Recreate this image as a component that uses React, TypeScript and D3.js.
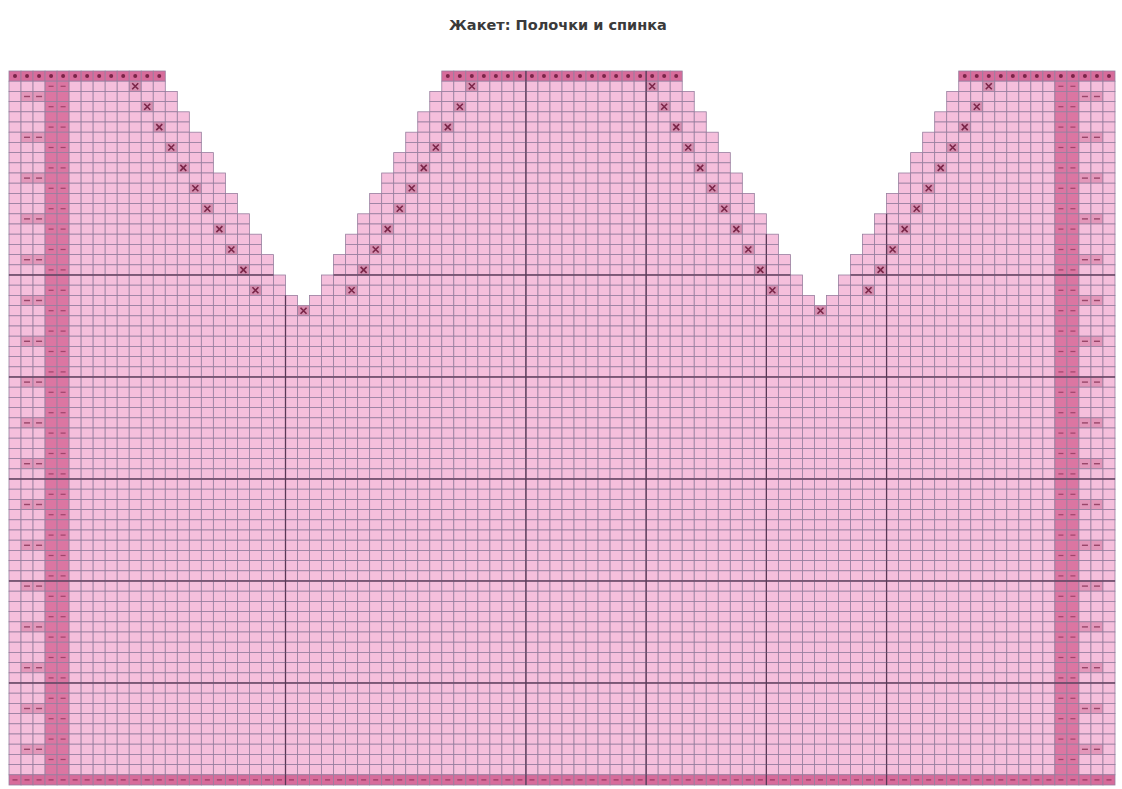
import React from 'react';
import * as d3 from 'd3';

const TITLE = 'Жакет: Полочки и спинка';
const COLS = 92;
const ROWS = 70;
// last stitch column of the left front for each of the top rows (shaping)
const leftFrontEdge = [12, 12, 13, 13, 14, 14, 15, 15, 16, 16, 17, 17, 18, 18, 19, 19, 20, 20, 21, 21, 22, 22, 23, 24];
const V_AXIS = 24; // column of the V tip
// decrease marks on the left front slope
const crossRows = [1, 3, 5, 7, 9, 11, 13, 15, 17, 19, 21, 23];
const crossCols = [10, 11, 12, 13, 14, 15, 16, 17, 18, 19, 20, 24];
const bandCols = [3, 4, 87, 88];
const holeCols = [1, 2, 89, 90];
const holeRows = [2, 6, 10, 14, 18, 22, 26, 30, 34, 38, 42, 46, 50, 54, 58, 62, 66];
const thickCols = [23, 43, 53, 63, 73];
const thickRows = [20, 30, 40, 50, 60];

const PINK = '#f5bfdc';
const BAND = '#db76a2';
const EDGE = '#d76c9b';
const GRID = '#977e9e';
const THICK = '#5a3856';
const MARK = '#7a2548';

function inShape(r: number, c: number): boolean {
  if (c < 0 || c >= COLS || r < 0 || r >= ROWS) return false;
  if (r >= leftFrontEdge.length) return true;
  const e = leftFrontEdge[r];
  const cs = 2 * V_AXIS - e;
  const ce = COLS - 1 - cs;
  const rs = COLS - 1 - e;
  return c <= e || (c >= cs && c <= ce) || c >= rs;
}

export default function App() {
  const x = d3.scaleLinear().domain([0, COLS]).range([9, 1115]);
  const y = d3.scaleLinear().domain([0, ROWS]).range([71, 785]);
  const cw = x(1) - x(0);
  const rh = y(1) - y(0);

  const crossSet = new Set<string>();
  crossRows.forEach((r, i) => {
    const c = crossCols[i];
    [c, 2 * V_AXIS - c, COLS - 1 - c, COLS - 1 - (2 * V_AXIS - c)].forEach((cc) => crossSet.add(r + ':' + cc));
  });
  const holeSet = new Set(holeRows);

  const cells: React.ReactNode[] = [];
  const marks: React.ReactNode[] = [];
  for (let r = 0; r < ROWS; r++) {
    for (let c = 0; c < COLS; c++) {
      if (!inShape(r, c)) continue;
      let fill = PINK;
      const key = r + ':' + c;
      const cx = x(c) + cw / 2;
      const cy = y(r) + rh / 2;
      if (r === 0) {
        fill = EDGE;
        marks.push(<circle key={'d' + key} cx={cx} cy={cy} r={2} fill={MARK} />);
      } else if (r === ROWS - 1) {
        fill = EDGE;
        marks.push(<line key={'b' + key} x1={cx - 2.5} x2={cx + 2.5} y1={cy} y2={cy} stroke={MARK} strokeWidth={1.2} opacity={0.7} />);
      } else if (bandCols.includes(c)) {
        fill = BAND;
        if (r % 2 === 1) marks.push(<line key={'m' + key} x1={cx - 2.5} x2={cx + 2.5} y1={cy} y2={cy} stroke={MARK} strokeWidth={1.2} opacity={0.6} />);
      } else if (holeCols.includes(c) && holeSet.has(r)) {
        fill = '#e397ba';
        marks.push(<line key={'h' + key} x1={cx - 3} x2={cx + 3} y1={cy} y2={cy} stroke={MARK} strokeWidth={1.4} opacity={0.7} />);
      } else if (crossSet.has(key)) {
        fill = '#d58fb0';
        marks.push(
          <path key={'x' + key} d={`M${cx - 3},${cy - 3}L${cx + 3},${cy + 3}M${cx + 3},${cy - 3}L${cx - 3},${cy + 3}`} stroke={MARK} strokeWidth={1.6} />
        );
      }
      cells.push(<rect key={key} x={x(c)} y={y(r)} width={cw} height={rh} fill={fill} stroke={GRID} strokeWidth={0.8} />);
    }
  }

  const thick: React.ReactNode[] = [];
  thickCols.forEach((b) => {
    for (let r = 0; r < ROWS; r++) {
      if (inShape(r, b - 1) && inShape(r, b)) {
        thick.push(<line key={'tv' + b + ':' + r} x1={x(b)} x2={x(b)} y1={y(r)} y2={y(r + 1)} stroke={THICK} strokeWidth={1.3} />);
      }
    }
  });
  thickRows.forEach((b) => {
    for (let c = 0; c < COLS; c++) {
      if (inShape(b - 1, c) && inShape(b, c)) {
        thick.push(<line key={'th' + b + ':' + c} x1={x(c)} x2={x(c + 1)} y1={y(b)} y2={y(b)} stroke={THICK} strokeWidth={1.3} />);
      }
    }
  });

  return (
    <div style={{ position: 'absolute', left: 0, top: 0 }}>
      <svg width={1122} height={789} style={{ display: 'block', background: '#fff' }}>
        <text x={558} y={30} textAnchor="middle" fontFamily="'DejaVu Sans', sans-serif" fontWeight="bold" fontSize={14.5} fill="#3a3a3a">
          {TITLE}
        </text>
        <g>{cells}</g>
        <g>{thick}</g>
        <g>{marks}</g>
      </svg>
    </div>
  );
}
